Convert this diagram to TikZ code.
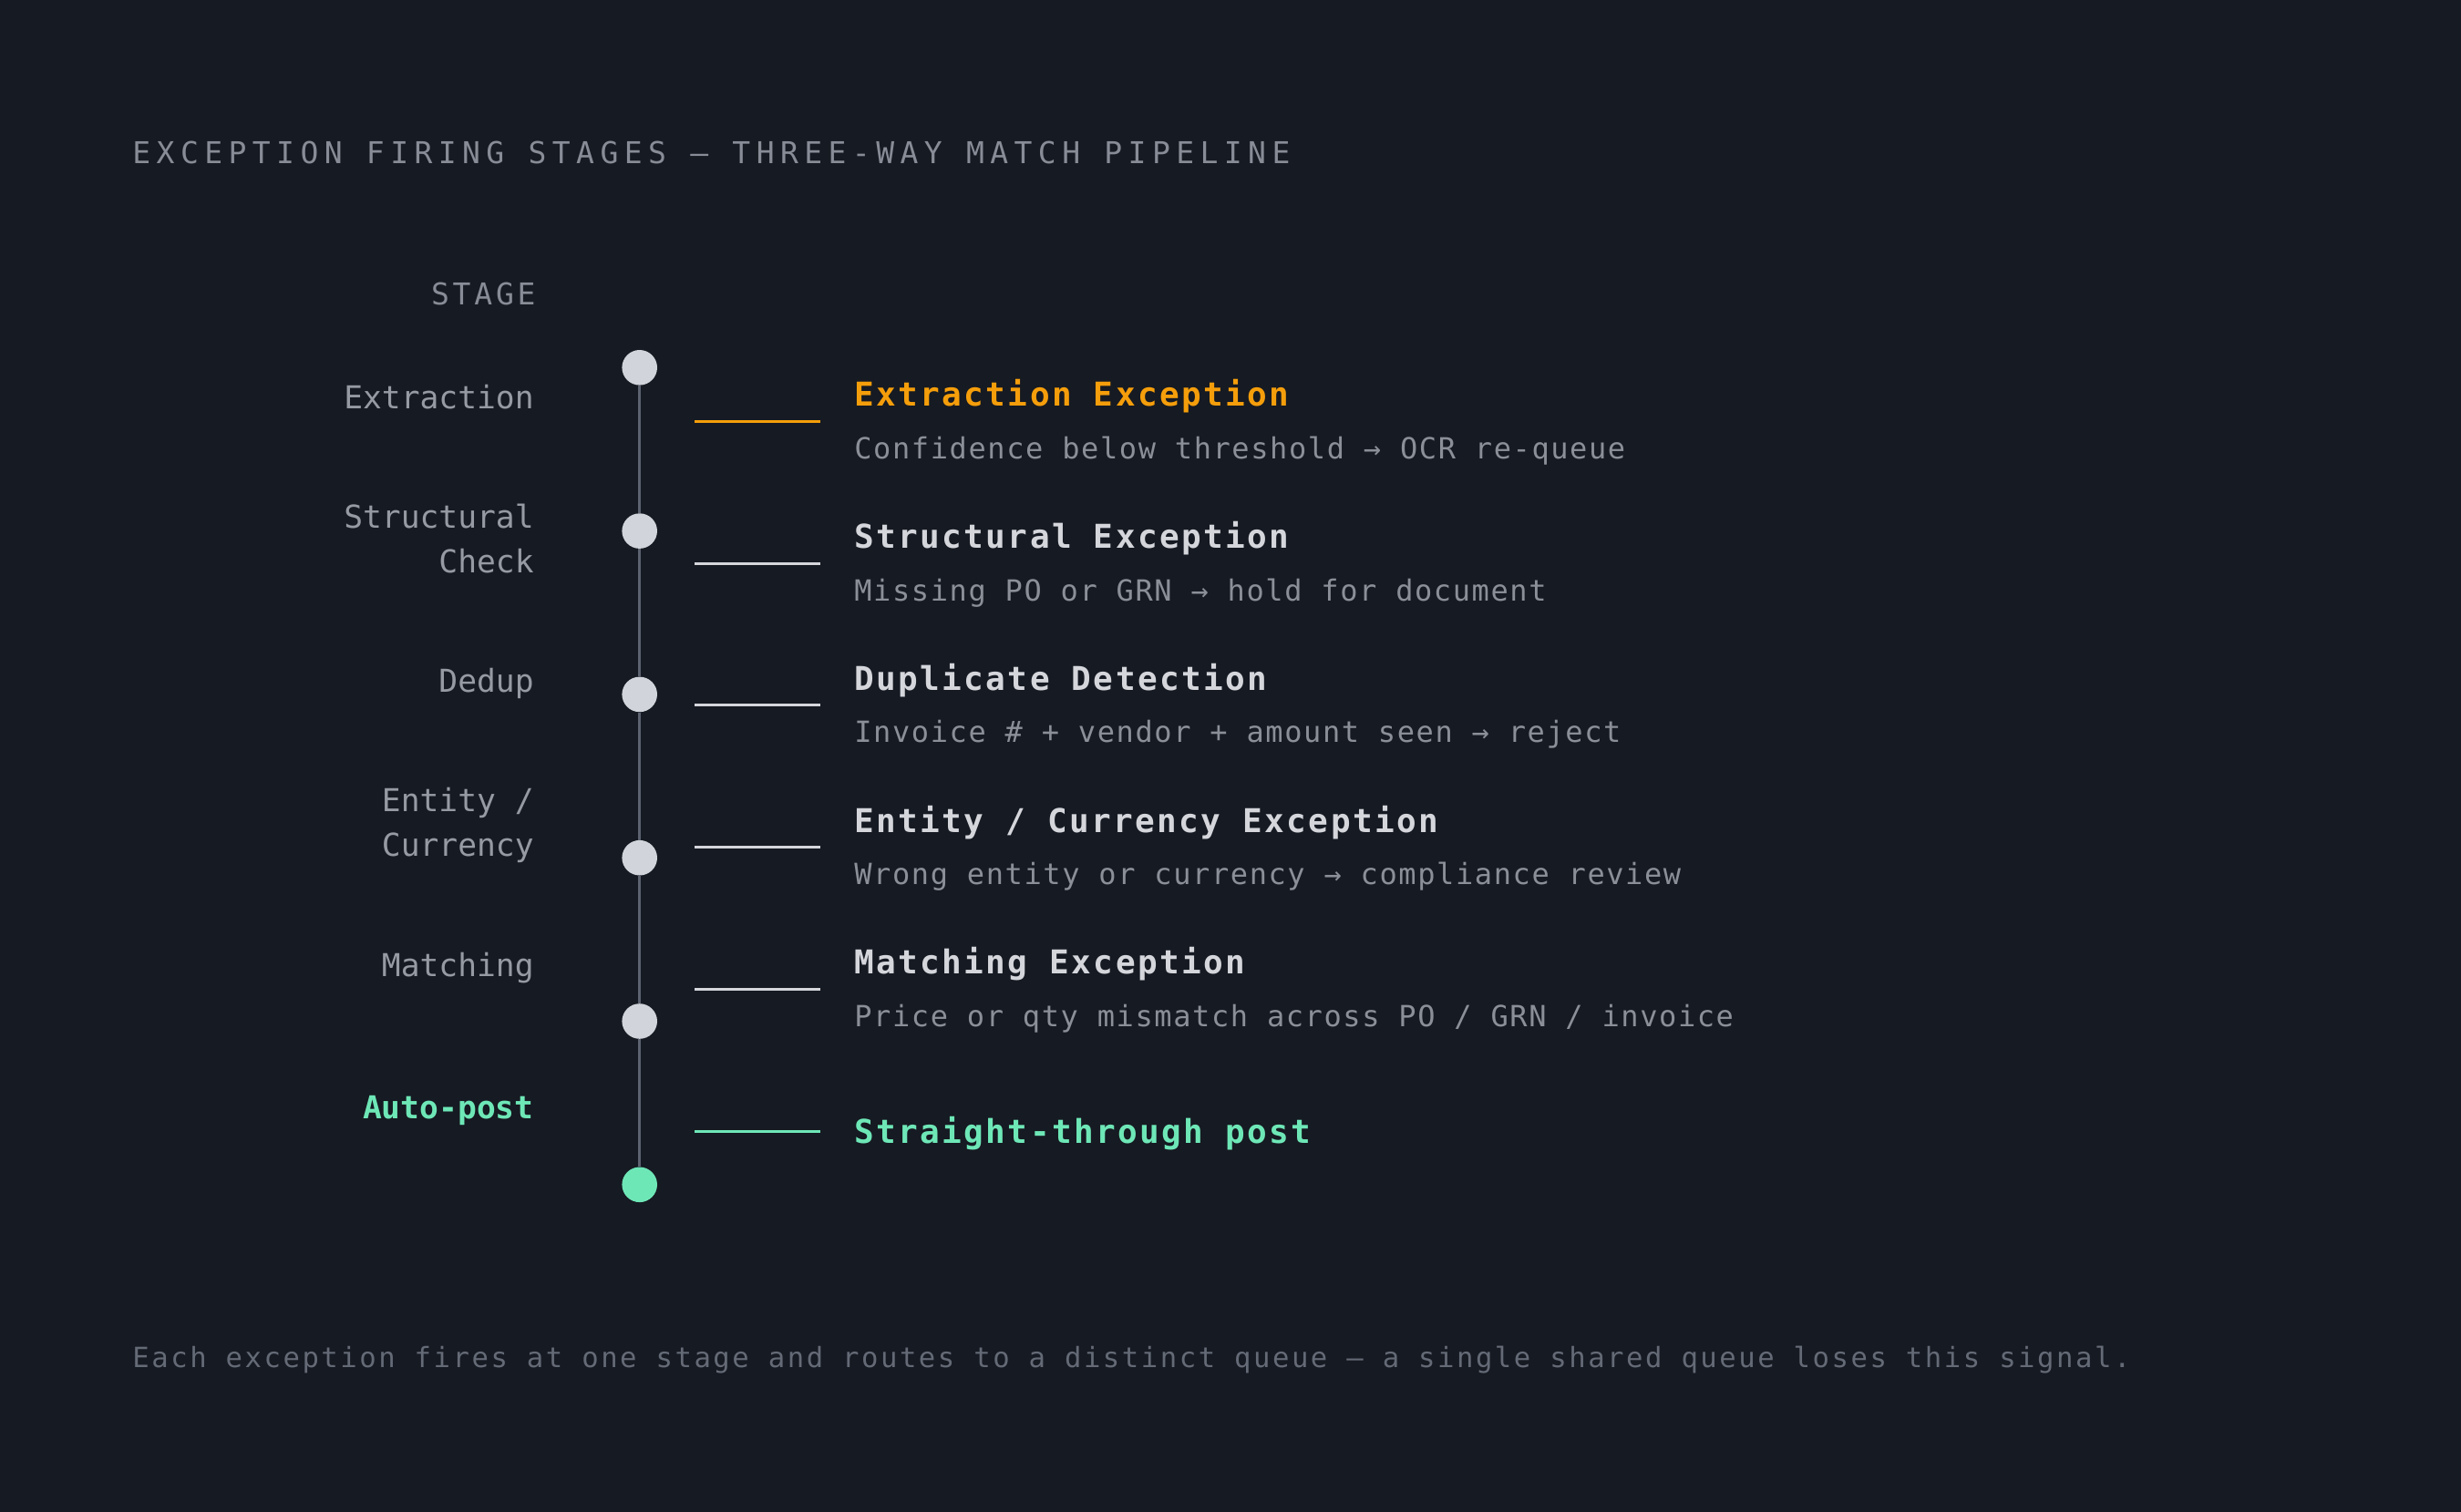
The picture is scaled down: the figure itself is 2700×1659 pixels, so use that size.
\documentclass[tikz,border=0pt]{standalone}
\usepackage{fontspec}
\setmainfont{DejaVu Sans Mono}
\newfontfamily\hdrfont[LetterSpace=19.5]{DejaVu Sans Mono}
\newfontfamily\stgfont[LetterSpace=11.5]{DejaVu Sans Mono}
\newfontfamily\lblfont{DejaVu Sans Mono}
\newfontfamily\ttlfont[LetterSpace=6.7]{DejaVu Sans Mono}
\newfontfamily\subfont[LetterSpace=5]{DejaVu Sans Mono}
\newfontfamily\ftrfont[LetterSpace=8.3]{DejaVu Sans Mono}
\definecolor{bgc}{HTML}{161A22}
\definecolor{hdrgray}{HTML}{888C96}
\definecolor{lblgray}{HTML}{969AA3}
\definecolor{subgray}{HTML}{8B8F98}
\definecolor{ftrgray}{HTML}{646A76}
\definecolor{ttlwhite}{HTML}{D4D6DC}
\definecolor{dotc}{HTML}{D1D5DB}
\definecolor{orangec}{HTML}{F59E0B}
\definecolor{greenc}{HTML}{6EE7B7}
\definecolor{vlinec}{HTML}{5C6270}
\tikzset{
  hdr/.style={font=\hdrfont\fontsize{16.5pt}{20pt}\selectfont, text=hdrgray, inner sep=0pt, anchor=base west},
  stg/.style={font=\stgfont\fontsize{16.5pt}{20pt}\selectfont, text=hdrgray, inner sep=0pt, anchor=base east},
  lbl/.style={font=\lblfont\fontsize{17.3pt}{20pt}\selectfont, text=lblgray, inner sep=0pt, anchor=base east},
  ttl/.style={font=\ttlfont\bfseries\fontsize{18pt}{22pt}\selectfont, text=ttlwhite, inner sep=0pt, anchor=base west},
  sub/.style={font=\subfont\fontsize{16pt}{20pt}\selectfont, text=subgray, inner sep=0pt, anchor=base west},
  ftr/.style={font=\ftrfont\fontsize{15.3pt}{18pt}\selectfont, text=ftrgray, inner sep=0pt, anchor=base west},
  dot/.style={circle, fill=dotc, draw=none, minimum size=19.3pt, inner sep=0pt},
  vline/.style={draw=vlinec, line width=1.25pt},
  hconn/.style={line width=1.5pt, draw=ttlwhite},
}
\begin{document}
\begin{tikzpicture}[x=0.5pt, y=-0.5pt]
\fill[bgc] (0,0) rectangle (2700,1659);
\useasboundingbox (0,0) rectangle (2700,1659);

% header
\node[hdr] (title) at (145,179) {EXCEPTION FIRING STAGES — THREE-WAY MATCH PIPELINE};
\node[stg] (stagehdr) at (588,334) {STAGE};

% stage labels
\node[lbl] (l0) at (586,448) {Extraction};
\node[lbl] (l1a) at (586,579.3) {Structural};
\node[lbl] (l1b) at (586,628.3) {Check};
\node[lbl] (l2) at (586,759.6) {Dedup};
\node[lbl] (l3a) at (586,890.9) {Entity /};
\node[lbl] (l3b) at (586,939.9) {Currency};
\node[lbl] (l4) at (586,1071.2) {Matching};
\node[lbl, text=greenc, font=\lblfont\bfseries\fontsize{17.3pt}{20pt}\selectfont] (l5) at (586,1227) {Auto-post};

% timeline dots
\node[dot] (d0) at (701.7,403.3) {};
\node[dot] (d1) at (701.7,582.6) {};
\node[dot] (d2) at (701.7,761.9) {};
\node[dot] (d3) at (701.7,941.2) {};
\node[dot] (d4) at (701.7,1120.5) {};
\node[dot, fill=greenc] (d5) at (701.7,1299.8) {};
\draw[vline] (d0) -- (d1);
\draw[vline] (d1) -- (d2);
\draw[vline] (d2) -- (d3);
\draw[vline] (d3) -- (d4);
\draw[vline] (d4) -- (d5);

% connectors
\coordinate (h0a) at (762,462.3);  \coordinate (h0b) at (900,462.3);
\coordinate (h1a) at (762,618.1);  \coordinate (h1b) at (900,618.1);
\coordinate (h2a) at (762,773.9);  \coordinate (h2b) at (900,773.9);
\coordinate (h3a) at (762,929.7);  \coordinate (h3b) at (900,929.7);
\coordinate (h4a) at (762,1085.5); \coordinate (h4b) at (900,1085.5);
\coordinate (h5a) at (762,1241.3); \coordinate (h5b) at (900,1241.3);
\draw[hconn, draw=orangec] (h0a) -- (h0b);
\draw[hconn] (h1a) -- (h1b);
\draw[hconn] (h2a) -- (h2b);
\draw[hconn] (h3a) -- (h3b);
\draw[hconn] (h4a) -- (h4b);
\draw[hconn, draw=greenc] (h5a) -- (h5b);

% cards
\node[ttl, text=orangec] (t0) at (937,445.7) {Extraction Exception};
\node[sub] (s0) at (937,503.3) {Confidence below threshold → OCR re-queue};
\node[ttl] (t1) at (937,601.5) {Structural Exception};
\node[sub] (s1) at (937,659.1) {Missing PO or GRN → hold for document};
\node[ttl] (t2) at (937,757.3) {Duplicate Detection};
\node[sub] (s2) at (937,814.9) {Invoice \# + vendor + amount seen → reject};
\node[ttl] (t3) at (937,913.1) {Entity / Currency Exception};
\node[sub] (s3) at (937,970.7) {Wrong entity or currency → compliance review};
\node[ttl] (t4) at (937,1068.9) {Matching Exception};
\node[sub] (s4) at (937,1126.5) {Price or qty mismatch across PO / GRN / invoice};
\node[ttl, text=greenc] (t5) at (937,1254.3) {Straight-through post};

% footer
\node[ftr] (foot) at (145,1500) {Each exception fires at one stage and routes to a distinct queue — a single shared queue loses this signal.};
\end{tikzpicture}
\end{document}
